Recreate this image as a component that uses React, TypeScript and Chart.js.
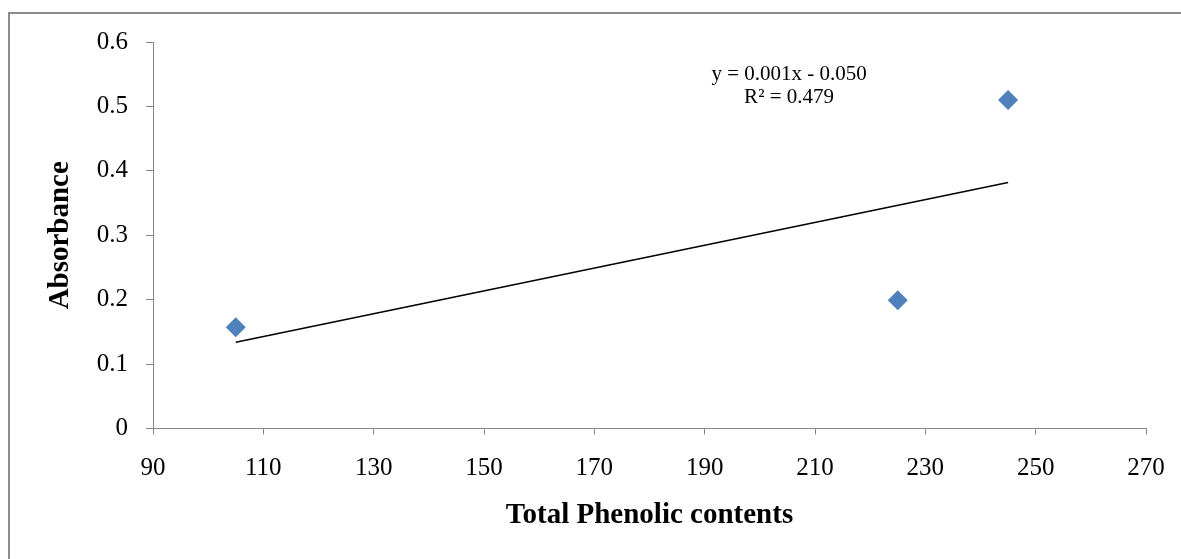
import React, { useEffect, useRef } from "react";
import { Chart, registerables } from "chart.js";

Chart.register(...registerables);

const xValues = [105, 225, 245];
const yValues = [0.157, 0.199, 0.51];
const trendX = [105, 245];
const trendY = [0.134, 0.382];
const equationLines = ["y = 0.001x - 0.050", "R² = 0.479"];
const xTitle = "Total Phenolic contents";
const yTitle = "Absorbance";

const SERIF = "'Liberation Serif', 'Times New Roman', serif";
const AXIS_GRAY = "#868686";

const equationPlugin = {
  id: "equationLabel",
  afterDatasetsDraw(chart: any) {
    const { ctx, scales } = chart;
    const x = scales.x.getPixelForValue(205.3);
    const y0 = scales.y.getPixelForValue(0.55);
    ctx.save();
    ctx.font = `21px ${SERIF}`;
    ctx.fillStyle = "#000";
    ctx.textAlign = "center";
    ctx.textBaseline = "middle";
    equationLines.forEach((t, i) => ctx.fillText(t, x, y0 + i * 23));
    ctx.restore();
  },
};

export default function App() {
  const ref = useRef<HTMLCanvasElement | null>(null);

  useEffect(() => {
    if (!ref.current) return;
    const chart = new Chart(ref.current, {
      type: "scatter",
      data: {
        datasets: [
          {
            label: "data",
            data: xValues.map((x, i) => ({ x, y: yValues[i] })),
            pointStyle: "rectRot",
            pointRadius: 10,
            pointBackgroundColor: "#4F81BD",
            pointBorderColor: "#4F81BD",
            pointBorderWidth: 0,
            showLine: false,
          },
          {
            label: "trend",
            data: trendX.map((x, i) => ({ x, y: trendY[i] })),
            showLine: true,
            borderColor: "#000",
            borderWidth: 1.5,
            pointRadius: 0,
            fill: false,
          },
        ],
      },
      options: {
        responsive: false,
        animation: false,
        events: [],
        layout: { padding: { top: 28, right: 35, left: 0, bottom: 0 } },
        plugins: { legend: { display: false }, tooltip: { enabled: false } },
        scales: {
          x: {
            type: "linear",
            min: 90,
            max: 270,
            afterFit: (s: any) => {
              s.height = 130.5;
              s.paddingLeft = 0;
              s.paddingRight = 0;
            },
            ticks: {
              stepSize: 20,
              padding: 18.5,
              color: "#000",
              font: { family: SERIF, size: 25 },
              maxRotation: 0,
            },
            grid: {
              drawOnChartArea: false,
              drawTicks: true,
              tickLength: 6,
              color: AXIS_GRAY,
            },
            border: { display: true, color: AXIS_GRAY, width: 1 },
            title: {
              display: true,
              text: xTitle,
              color: "#000",
              font: { family: SERIF, size: 29, weight: "bold" },
              padding: { top: 0, bottom: 25.6 },
            },
          },
          y: {
            type: "linear",
            min: 0,
            max: 0.6,
            afterFit: (s: any) => {
              s.width = 143;
              s.paddingTop = 0;
              s.paddingBottom = 0;
            },
            ticks: {
              stepSize: 0.1,
              padding: 18,
              color: "#000",
              font: { family: SERIF, size: 25 },
              callback: (v: any) => (Math.abs(v) < 1e-9 ? "0" : Number(v).toFixed(1)),
            },
            grid: {
              drawOnChartArea: false,
              drawTicks: true,
              tickLength: 7,
              color: AXIS_GRAY,
            },
            border: { display: true, color: AXIS_GRAY, width: 1 },
            title: {
              display: true,
              text: yTitle,
              color: "#000",
              font: { family: SERIF, size: 29, weight: "bold" },
              padding: { top: 33.6, bottom: 0 },
            },
          },
        },
      },
      plugins: [equationPlugin],
    });
    return () => chart.destroy();
  }, []);

  return (
    <div
      style={{
        position: "absolute",
        left: 8,
        top: 12,
        width: 1171,
        height: 545,
        borderTop: "2px solid #8c8c8c",
        borderLeft: "2px solid #8c8c8c",
        overflow: "hidden",
        background: "#fff",
      }}
    >
      <canvas ref={ref} width={1171} height={545} style={{ display: "block" }} />
    </div>
  );
}
